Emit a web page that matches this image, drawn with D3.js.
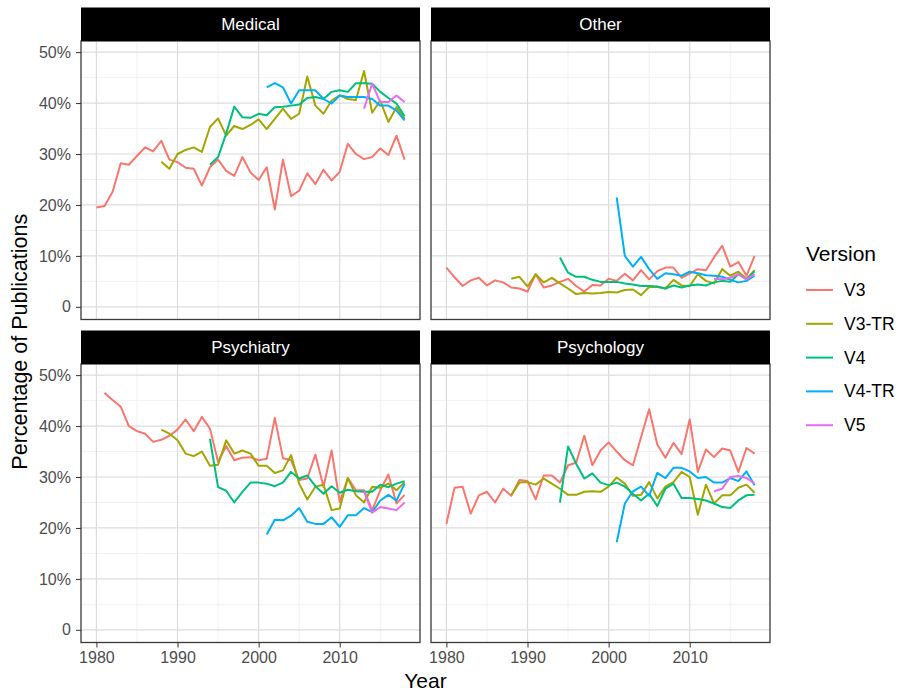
<!DOCTYPE html>
<html>
<head>
<meta charset="utf-8">
<script src="https://cdn.jsdelivr.net/npm/d3@7"></script>
<style>
  body { margin: 0; background: #fff; }
  text { font-family: "Liberation Sans", Arial, sans-serif; }
</style>
</head>
<body>
<svg class="chart" width="903" height="692"></svg>
<script>
// facets and versions
var fields = ["Medical", "Other", "Psychiatry", "Psychology"];
var versions = ["V3", "V3-TR", "V4", "V4-TR", "V5"];
var versionColors = ["#F8766D", "#A3A500", "#00BF7D", "#00B0F6", "#E76BF3"];

// first year of each series
var startYears = { "V3": 1980, "V3-TR": 1988, "V4": 1994, "V4-TR": 2001, "V5": 2013 };
var psychiatryV3Start = 1981;

// percentages
var medicalV3 = [19.5, 19.8, 22.6, 28.2, 27.9, 29.6, 31.3, 30.5, 32.6, 28.9, 28.4, 27.3, 27.1, 23.8, 27.4, 28.9, 26.7, 25.7, 29.4, 26.4,
    24.9, 27.4, 19.1, 28.9, 21.7, 22.8, 26.2, 24.1, 26.9, 24.8, 26.5, 32.0, 30.0, 29.0, 29.4, 31.1, 29.8, 33.6, 28.9];
var medicalV3TR = [28.5, 27.1, 30.0, 30.8, 31.3, 30.4, 35.3, 37.0, 33.6, 35.5, 34.9, 35.7,
    36.8, 34.9, 36.9, 38.9, 36.9, 37.9, 45.2, 39.5, 37.9, 40.5, 41.5, 40.8, 40.6, 46.3, 38.1, 40.5, 36.3, 39.2, 36.9];
var medicalV4 = [27.9, 29.4, 34.0, 39.3, 37.2, 37.1, 37.9, 37.6, 39.2, 39.3, 39.5, 39.7, 41.0, 41.2, 40.8, 42.2, 42.5, 42.2, 43.9, 43.9,
    43.8, 42.2, 41.0, 39.9, 37.4];
var medicalV4TR = [43.1, 43.9, 43.1, 39.9, 42.5, 42.5, 42.5, 40.8, 39.9, 41.5, 41.2, 41.2, 41.2, 40.8, 39.5, 39.5, 38.5, 36.6];
var medicalV5 = [38.9, 43.8, 40.2, 40.2, 41.5, 40.2];

var otherV3 = [7.7, 5.8, 4.1, 5.2, 5.7, 4.2, 5.2, 4.8, 3.8, 3.6, 3.0, 6.4, 3.8, 4.2, 4.9, 5.5, 4.1, 3.0, 4.3,
    4.2, 5.5, 5.1, 6.5, 5.2, 7.2, 5.4, 7.0, 7.7, 7.7, 5.7, 6.5, 7.4, 7.2, 9.7, 12.0, 7.9, 8.8, 6.1, 10.0];
var otherV3TR = [5.5, 5.9, 4.0, 6.4, 4.8, 5.7, 4.6, 3.6, 2.5, 2.7, 2.6,
    2.7, 2.9, 2.8, 3.3, 3.4, 2.3, 3.9, 3.9, 3.6, 5.3, 4.2, 4.1, 6.4, 5.1, 4.6, 7.4, 6.1, 6.9, 5.5, 7.2];
var otherV4 = [9.7, 6.7, 5.9, 5.9, 5.3, 4.9, 4.9, 4.9, 4.6, 4.4, 4.1, 4.1, 4.0, 3.6, 4.2, 3.8, 4.2, 4.4, 4.2, 4.8, 5.1, 4.9, 6.4, 5.4, 7.0];
var otherV4TR = [21.5, 10.0, 7.9, 9.8, 7.4, 5.5, 6.6, 6.4, 6.1, 6.9, 6.6, 6.2, 6.1, 5.9, 5.3, 4.8, 5.1, 6.1];
var otherV5 = [5.5, 5.4, 5.7, 6.4, 5.4, 6.4];

var psychiatryV3 = [46.5, 45.1, 43.8, 40.0, 39.0, 38.5, 36.9, 37.3, 38.1, 39.3, 41.3, 39.0, 41.8, 39.5, 33.0, 36.1, 33.3, 33.8, 33.9,
    33.3, 33.6, 41.6, 33.7, 33.3, 29.4, 29.7, 34.4, 28.1, 35.2, 25.1, 29.8, 27.4, 27.4, 23.5, 27.4, 30.5, 24.8, 26.5];
var psychiatryV3TR = [39.3, 38.5, 37.2, 34.6, 34.1, 35.0, 32.2, 32.4, 37.2, 34.6, 35.2, 34.6,
    32.2, 32.2, 30.8, 31.3, 34.3, 28.7, 25.6, 28.1, 28.5, 23.5, 23.8, 29.8, 26.4, 25.0, 28.1, 27.9, 28.7, 27.4, 29.0];
var psychiatryV4 = [37.5, 28.0, 27.3, 25.0, 27.1, 28.9, 28.9, 28.7, 28.2, 28.9, 31.0, 29.7, 30.3, 28.2, 26.7, 28.2, 26.9, 27.5, 27.2, 27.1,
    27.1, 28.5, 28.0, 28.7, 29.2];
var psychiatryV4TR = [18.7, 21.6, 21.5, 22.4, 23.9, 21.2, 20.8, 20.8, 22.1, 20.2, 22.5, 22.5, 23.9, 23.1, 25.4, 26.5, 25.4, 28.7];
var psychiatryV5 = [27.2, 23.0, 24.1, 23.8, 23.5, 25.0];

var psychologyV3 = [20.8, 27.9, 28.1, 22.8, 26.4, 27.1, 25.0, 27.7, 26.3, 29.4, 29.2, 25.6, 30.3, 30.3, 28.9, 32.3, 32.8, 38.1, 32.3, 35.2,
    36.8, 35.0, 33.3, 32.3, 37.8, 43.3, 36.4, 33.8, 36.7, 34.5, 41.3, 31.0, 35.4, 33.9, 35.6, 35.2, 31.0, 35.7, 34.6];
var psychologyV3TR = [26.5, 28.9, 29.0, 28.5, 29.7, 28.7, 27.7, 26.5, 26.5, 27.1, 27.2, 27.1,
    28.1, 29.9, 28.7, 26.3, 26.5, 29.0, 25.8, 28.1, 29.0, 31.0, 30.0, 22.6, 28.5, 24.8, 26.4, 26.4, 27.9, 28.5, 26.9];
var psychologyV4 = [25.0, 36.0, 32.6, 29.7, 30.7, 28.9, 28.4, 28.9, 28.1, 26.7, 25.4, 26.7, 24.3, 27.7, 28.7, 25.9, 25.9, 25.7, 25.4, 24.8,
    24.1, 23.9, 25.4, 26.4, 26.5];
var psychologyV4TR = [17.2, 24.8, 27.2, 28.1, 26.3, 30.8, 29.8, 31.8, 31.8, 31.1, 29.8, 30.0, 28.9, 28.9, 29.8, 29.2, 31.1, 28.4];
var psychologyV5 = [27.2, 27.7, 30.0, 30.2, 29.8, 28.7];

var xTicks = [1980, 1990, 2000, 2010];
var xMinor = [1985, 1995, 2005, 2015];
var yTicks = [0, 0.1, 0.2, 0.3, 0.4, 0.5];
var yMinor = [0.05, 0.15, 0.25, 0.35, 0.45];

var seriesByField = {
    "Medical": [medicalV3, medicalV3TR, medicalV4, medicalV4TR, medicalV5],
    "Other": [otherV3, otherV3TR, otherV4, otherV4TR, otherV5],
    "Psychiatry": [psychiatryV3, psychiatryV3TR, psychiatryV4, psychiatryV4TR, psychiatryV5],
    "Psychology": [psychologyV3, psychologyV3TR, psychologyV4, psychologyV4TR, psychologyV5]
};

function toPoints(field, vi) {
    var start = startYears[versions[vi]];
    if (field === "Psychiatry" && vi === 0) start = psychiatryV3Start;
    return seriesByField[field][vi].map(function (v, i) {
        return { year: start + i, value: v / 100 };
    });
}

var svg = d3.select(".chart");

// panel layout
var colX = [81, 431], panelW = 339;
var rowY = [41, 364], panelH = 278.5;
var stripH = 33.5;

// ggplot style 5% expansion
var xRange = [1980, 2018], yRange = [0, 0.497];
var xPad = (xRange[1] - xRange[0]) * 0.05, yPad = (yRange[1] - yRange[0]) * 0.05;
var x = d3.scaleLinear().domain([xRange[0] - xPad, xRange[1] + xPad]).range([0, panelW]);
var y = d3.scaleLinear().domain([yRange[0] - yPad, yRange[1] + yPad]).range([panelH, 0]);

var color = d3.scaleOrdinal().domain(versions).range(versionColors);

var line = d3.line()
    .x(function (d) { return x(d.year); })
    .y(function (d) { return y(d.value); });

fields.forEach(function (field, fi) {
    var col = fi % 2, row = Math.floor(fi / 2);
    var g = svg.append("g").attr("transform", "translate(" + colX[col] + "," + rowY[row] + ")");

    g.append("rect").attr("width", panelW).attr("height", panelH).attr("fill", "#fff");

    // minor grid
    g.selectAll(".xminor").data(xMinor).enter().append("line")
        .attr("x1", x).attr("x2", x).attr("y1", 0).attr("y2", panelH)
        .attr("stroke", "#eeeeee").attr("stroke-width", 0.8);
    g.selectAll(".yminor").data(yMinor).enter().append("line")
        .attr("y1", y).attr("y2", y).attr("x1", 0).attr("x2", panelW)
        .attr("stroke", "#eeeeee").attr("stroke-width", 0.8);
    // major grid
    g.selectAll(".xmajor").data(xTicks).enter().append("line")
        .attr("x1", x).attr("x2", x).attr("y1", 0).attr("y2", panelH)
        .attr("stroke", "#dcdcdc").attr("stroke-width", 1.2);
    g.selectAll(".ymajor").data(yTicks).enter().append("line")
        .attr("y1", y).attr("y2", y).attr("x1", 0).attr("x2", panelW)
        .attr("stroke", "#dcdcdc").attr("stroke-width", 1.2);

    versions.forEach(function (v, vi) {
        g.append("path")
            .datum(toPoints(field, vi))
            .attr("fill", "none")
            .attr("stroke", color(v))
            .attr("stroke-width", 2)
            .attr("stroke-linejoin", "round")
            .attr("d", line);
    });

    g.append("rect").attr("width", panelW).attr("height", panelH)
        .attr("fill", "none").attr("stroke", "#3a3a3a").attr("stroke-width", 1.3);

    // strip
    g.append("rect").attr("x", 0).attr("y", -stripH).attr("width", panelW).attr("height", stripH)
        .attr("fill", "#000");
    g.append("text").attr("x", panelW / 2).attr("y", -stripH / 2)
        .attr("text-anchor", "middle").attr("dominant-baseline", "central")
        .attr("fill", "#fff").attr("font-size", "17px").text(field);

    // y axis on left column only
    if (col === 0) {
        var yAxis = d3.axisLeft(y).tickValues(yTicks).tickSize(5).tickPadding(5)
            .tickFormat(function (d) { return d === 0 ? "0" : d3.format(".0%")(d); });
        var gy = g.append("g").call(yAxis);
        gy.select(".domain").remove();
        gy.selectAll("line").attr("stroke", "#333");
        gy.selectAll("text").attr("fill", "#4d4d4d").attr("font-size", "16px")
            .attr("font-family", "Liberation Sans, Arial, sans-serif");
    }
    // x axis on bottom row only
    if (row === 1) {
        var xAxis = d3.axisBottom(x).tickValues(xTicks).tickSize(5).tickPadding(4)
            .tickFormat(d3.format("d"));
        var gx = g.append("g").attr("transform", "translate(0," + panelH + ")").call(xAxis);
        gx.select(".domain").remove();
        gx.selectAll("line").attr("stroke", "#333");
        gx.selectAll("text").attr("fill", "#4d4d4d").attr("font-size", "16px")
            .attr("font-family", "Liberation Sans, Arial, sans-serif");
    }
});

// axis titles
svg.append("text").attr("x", (colX[0] + colX[1] + panelW) / 2).attr("y", 688)
    .attr("text-anchor", "middle").attr("font-size", "21px").attr("fill", "#000").text("Year");
svg.append("text")
    .attr("transform", "translate(27," + (rowY[0] + rowY[1] + panelH) / 2 + ") rotate(-90)")
    .attr("text-anchor", "middle").attr("font-size", "21.5px").attr("fill", "#000")
    .text("Percentage of Publications");

// legend
var legend = svg.append("g").attr("transform", "translate(806,0)");
legend.append("text").attr("x", 0).attr("y", 261).attr("font-size", "21px").attr("fill", "#000").text("Version");
var items = legend.selectAll(".item").data(versions).enter().append("g")
    .attr("transform", function (d, i) { return "translate(0," + (290 + i * 33.8) + ")"; });
items.append("line").attr("x1", 0).attr("x2", 27).attr("y1", 0).attr("y2", 0)
    .attr("stroke", function (d) { return color(d); }).attr("stroke-width", 2);
items.append("text").attr("x", 38).attr("y", 0).attr("dominant-baseline", "central")
    .attr("font-size", "17.5px").attr("fill", "#000").text(function (d) { return d; });
</script>
</body>
</html>
